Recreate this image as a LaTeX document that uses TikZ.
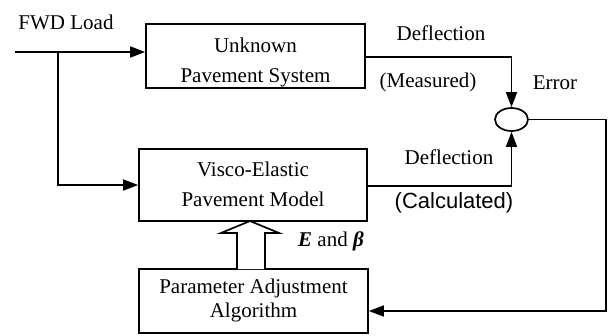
\documentclass[tikz,border=0pt]{standalone}
\usepackage{fontspec}
\setmainfont{Liberation Serif}
\newfontfamily\calcfont{Liberation Sans}
\usetikzlibrary{arrows.meta,shapes.geometric}
\begin{document}
\begin{tikzpicture}[x=1pt,y=-1pt,
  every node/.style={font=\fontsize{21}{30}\selectfont},
  blockbox/.style={draw,line width=1.7pt,inner sep=0pt},
  txt/.style={inner sep=0pt,align=center},
  arr/.style={line width=1.7pt,-{Triangle[length=15pt,width=11pt]}}]
\useasboundingbox (0,0) rectangle (610,335);
% boxes
\node[blockbox,minimum width=219pt,minimum height=64pt] (unk) at (255.5,56) {};
\node[txt] (unkt) at (255.5,62) {Unknown\\Pavement System};
\node[blockbox,minimum width=228pt,minimum height=72pt] (visco) at (253,185) {};
\node[txt] (viscot) at (253,184) {Visco-Elastic\\Pavement Model};
\node[blockbox,minimum width=229pt,minimum height=64pt] (param) at (253.5,301) {};
\node[txt,font=\fontsize{21}{24}\selectfont] (paramt) at (253.5,300) {Parameter Adjustment\\Algorithm};
\node[draw,ellipse,line width=1.7pt,minimum width=33pt,minimum height=23pt,inner sep=0pt] (err) at (511.5,119.5) {};
% labels
\node[txt] (fwd) at (66,22) {FWD Load};
\node[txt] (def1) at (441,33) {Deflection};
\node[txt] (meas) at (428,82) {(Measured)};
\node[txt] (errl) at (555,83) {Error};
\node[txt] (def2) at (449,157) {Deflection};
\node[txt,font=\calcfont\fontsize{22}{26}\selectfont] (calc) at (454,203) {(Calculated)};
\node[txt] (eb) at (331,241) {\textbf{\textit{E}} and \textbf{\textit{β}}};
% connectors
\coordinate (start) at (15,52);
\coordinate (branch) at (58,52);
\draw[arr] (start) -- (start -| unk.west);
\draw[arr] (branch) |- (visco.west);
\draw[arr] (unk.east |- 0,57) -| (err.north);
\draw[arr] (visco.east |- 0,186) -| (err.south);
\coordinate (rc) at (606,119.5);
\draw[arr] (err.east) -- (rc) |- (param.east |- 0,311);
% hollow arrow
\draw[line width=1.7pt,fill=white] (237,269) -- (237,233) -- (221,233) -- (250,221) -- (279,233) -- (265,233) -- (265,269);
\end{tikzpicture}
\end{document}
